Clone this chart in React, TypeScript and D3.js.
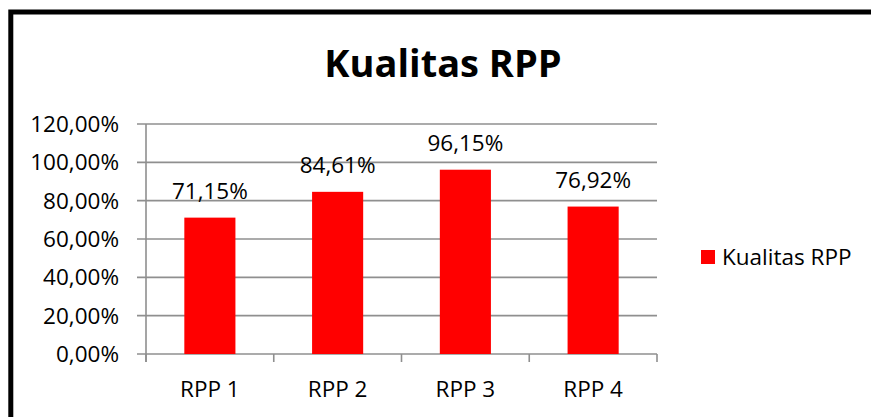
import React from "react";
import * as d3 from "d3";

const categories = ["RPP 1", "RPP 2", "RPP 3", "RPP 4"];
const values = [0.7115, 0.8461, 0.9615, 0.7692];
const valueLabels = ["71,15%", "84,61%", "96,15%", "76,92%"];
const yTicks = [0, 0.2, 0.4, 0.6, 0.8, 1.0, 1.2];
const seriesName = "Kualitas RPP";
const title = "Kualitas RPP";

const W = 871;
const H = 417;
const FONT = "'Open Sans', 'Noto Sans', sans-serif";

export default function App() {
  const x = d3
    .scaleBand<string>()
    .domain(categories)
    .range([146, 657])
    .paddingInner(0.6)
    .paddingOuter(0.3);
  const y = d3.scaleLinear().domain([0, 1.2]).range([354, 124]);
  const fmt = (v: number) => (v * 100).toFixed(2).replace(".", ",") + "%";
  const grid = "#8f8f8f";
  const edges = d3.range(categories.length + 1).map((i) => 146 + i * x.step());
  const fs = 22.5;

  return (
    <svg
      width={W}
      height={H}
      style={{ position: "absolute", left: 0, top: 0, background: "#fff" }}
      fontFamily={FONT}
    >
      <rect x={10.8} y={12} width={W + 20} height={H + 20} fill="#fff" stroke="#000" strokeWidth={5} />
      <text x={443} y={77} textAnchor="middle" fontSize={38} fontWeight="bold" fill="#000">
        {title}
      </text>
      {yTicks.map((t) => (
        <g key={t}>
          <line x1={137} x2={657} y1={y(t)} y2={y(t)} stroke={grid} strokeWidth={1.6} />
          <text x={119} y={y(t) + 8} textAnchor="end" fontSize={fs} fill="#000">
            {fmt(t)}
          </text>
        </g>
      ))}
      <line x1={146} x2={146} y1={124} y2={362} stroke={grid} strokeWidth={1.6} />
      {edges.map((e, i) => (
        <line key={i} x1={e} x2={e} y1={354} y2={362} stroke={grid} strokeWidth={1.6} />
      ))}
      {categories.map((c, i) => (
        <g key={c}>
          <rect
            x={x(c)!}
            y={y(values[i])}
            width={x.bandwidth()}
            height={y(0) - y(values[i])}
            fill="#FF0000"
          />
          <text
            x={x(c)! + x.bandwidth() / 2}
            y={y(values[i]) - 19}
            textAnchor="middle"
            fontSize={fs}
            fill="#000"
          >
            {valueLabels[i]}
          </text>
          <text x={x(c)! + x.bandwidth() / 2} y={397} textAnchor="middle" fontSize={fs} fill="#000">
            {c}
          </text>
        </g>
      ))}
      <rect x={701} y={250} width={14} height={14} fill="#FF0000" />
      <text x={722} y={265} fontSize={fs} fill="#000">
        {seriesName}
      </text>
    </svg>
  );
}
